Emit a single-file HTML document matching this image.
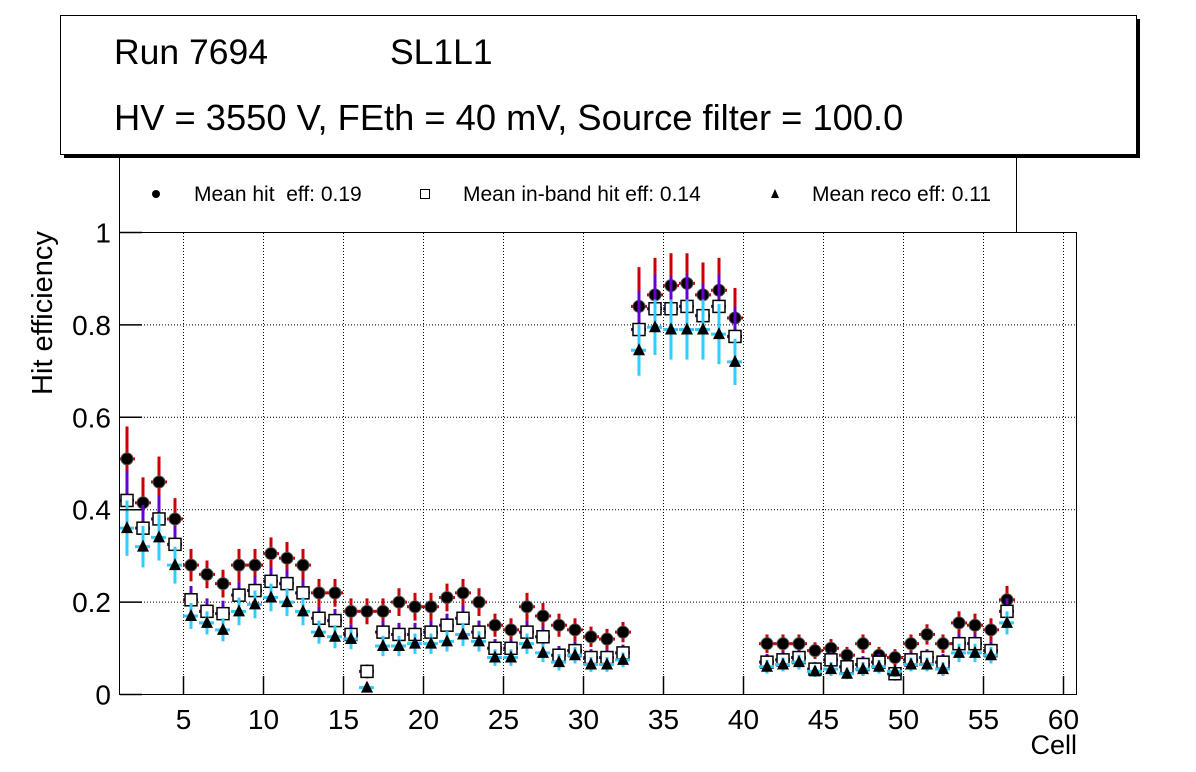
<!DOCTYPE html>
<html><head><meta charset="utf-8"><style>
body{margin:0;background:#fff;}
svg{display:block;font-family:"Liberation Sans",sans-serif;}
</style></head><body>
<svg id="c" width="1196" height="772" xmlns="http://www.w3.org/2000/svg">
<rect x="64" y="19" width="1076" height="139" fill="#000"/>
<rect x="60.5" y="15.5" width="1076" height="139" fill="#fff" stroke="#000" stroke-width="1"/>
<text x="114" y="64" font-size="35.5">Run 7694</text>
<text x="390" y="64" font-size="35.5">SL1L1</text>
<text x="114" y="130" font-size="36.3">HV = 3550 V, FEth = 40 mV, Source filter = 100.0</text>
<g>
<line x1="119.5" y1="158" x2="119.5" y2="232" stroke="#000"/>
<line x1="1016.5" y1="158" x2="1016.5" y2="232" stroke="#000"/>
<circle cx="156" cy="194" r="4" fill="#000"/>
<text x="194" y="201" font-size="21">Mean hit&#160; eff: 0.19</text>
<rect x="420.5" y="189.5" width="9" height="9" fill="#fff" stroke="#000"/>
<text x="463" y="201" font-size="21">Mean in-band hit eff: 0.14</text>
<path d="M775,189 L779,198 L771,198 Z" fill="#000"/>
<text x="812" y="201" font-size="21">Mean reco eff: 0.11</text>
</g>
<g id="grid"></g>
<g id="marks"></g>
<rect x="119.5" y="232.5" width="957" height="462" fill="none" stroke="#000"/>
<g id="axes"></g>
<text x="52" y="313" font-size="29" text-anchor="middle" transform="rotate(-90 52 313)">Hit efficiency</text>
<text x="1077" y="754" font-size="27" text-anchor="end">Cell</text>
</svg>
<script>
const cells=[1,2,3,4,5,6,7,8,9,10,11,12,13,14,15,16,17,18,19,20,21,22,23,24,25,26,27,28,29,30,31,32,33,34,35,36,37,38,39,41,42,43,44,45,46,47,48,49,50,51,52,53,54,55,56];
const hitEff=[.51,.415,.46,.38,.28,.26,.24,.28,.28,.305,.295,.28,.22,.22,.18,.18,.18,.20,.19,.19,.21,.22,.20,.15,.14,.19,.17,.15,.14,.125,.12,.135,.84,.865,.885,.89,.865,.875,.815,.11,.11,.11,.095,.10,.085,.11,.085,.08,.11,.13,.11,.155,.15,.14,.205];
const hitErr=[.07,.055,.055,.045,.035,.03,.03,.035,.035,.035,.035,.035,.03,.03,.028,.028,.028,.03,.03,.03,.03,.03,.03,.025,.025,.03,.028,.025,.025,.022,.022,.022,.085,.08,.07,.065,.07,.07,.065,.02,.02,.02,.018,.02,.018,.02,.018,.018,.02,.022,.02,.025,.025,.025,.03];
const inbandEff=[.42,.36,.38,.325,.205,.18,.175,.215,.225,.245,.24,.22,.165,.16,.13,.05,.135,.13,.13,.135,.15,.165,.135,.10,.10,.135,.125,.085,.095,.08,.08,.09,.79,.835,.835,.84,.82,.84,.775,.07,.075,.08,.055,.075,.06,.065,.07,.045,.075,.08,.07,.11,.11,.095,.18];
const inbandErr=[.065,.05,.05,.04,.03,.028,.028,.03,.03,.03,.03,.03,.025,.025,.022,.015,.025,.025,.025,.025,.025,.028,.025,.02,.02,.025,.022,.02,.02,.018,.018,.018,.085,.075,.07,.07,.07,.07,.065,.018,.018,.018,.015,.018,.015,.018,.018,.015,.018,.018,.018,.022,.022,.02,.028];
const recoEff=[.36,.32,.34,.28,.17,.155,.14,.18,.195,.21,.20,.18,.135,.125,.12,.015,.105,.105,.11,.11,.115,.13,.115,.08,.08,.11,.09,.07,.085,.065,.065,.075,.745,.795,.79,.79,.79,.78,.72,.06,.065,.07,.05,.055,.045,.055,.06,.05,.065,.065,.055,.09,.09,.085,.155];
const recoErr=[.06,.045,.05,.04,.028,.025,.025,.03,.03,.03,.03,.03,.025,.025,.022,.01,.022,.022,.022,.022,.022,.025,.022,.018,.018,.022,.02,.018,.018,.016,.016,.016,.055,.06,.065,.065,.065,.065,.05,.015,.015,.016,.012,.015,.012,.015,.015,.012,.015,.015,.015,.02,.02,.018,.025];
const xTicks=[5,10,15,20,25,30,35,40,45,50,55,60];
const yTicks=[0,0.2,0.4,0.6,0.8,1];
const yTickLabels=["0","0.2","0.4","0.6","0.8","1"];
const NS="http://www.w3.org/2000/svg";
const X=v=>119+(v-1)*16, Y=v=>694.5-v*462;
function mk(tag,attrs,parent){const e=document.createElementNS(NS,tag);for(const k in attrs)e.setAttribute(k,attrs[k]);parent.appendChild(e);return e;}
const grid=document.getElementById('grid'),axes=document.getElementById('axes'),marks=document.getElementById('marks');
xTicks.forEach(t=>{const x=X(t)+.5;
const g=mk('line',{x1:x,y1:233,x2:x,y2:694,stroke:'#000','stroke-dasharray':'1,2'},grid);


const tk=mk('line',{x1:x,y1:694,x2:x,y2:676,stroke:'#000','stroke-width':1.5},axes);


const l=mk('text',{x:x,y:729,'font-size':28,'text-anchor':'middle'},axes);l.textContent=t;

});
yTicks.forEach((t,i)=>{const y=Y(t);
if(t>0){const g=mk('line',{x1:120,y1:y,x2:1076,y2:y,stroke:'#000','stroke-dasharray':'1,2'},grid);

}
const tk=mk('line',{x1:120,y1:y,x2:142,y2:y,stroke:'#000','stroke-width':1.5},axes);


const l=mk('text',{x:111,y:y+10,'font-size':28,'text-anchor':'end'},axes);l.textContent=yTickLabels[i];

});
function series(vals,errs,color,name,dash,marker){
cells.forEach((c,i)=>{const cx=X(c+0.5),cy=Y(vals[i]);
const g=mk('g',{},marks);


const a={stroke:color,'stroke-width':3};if(dash)a['stroke-dasharray']=dash;
mk('line',Object.assign({x1:X(c),y1:cy,x2:X(c+1),y2:cy},a),g);
mk('line',{x1:cx,y1:Y(vals[i]+errs[i]),x2:cx,y2:Y(Math.max(0,vals[i]-errs[i])),stroke:color,'stroke-width':3},g);
if(marker==='c'){mk('circle',{cx:cx,cy:cy,r:6,fill:'#000',stroke:'#555','stroke-width':1},g);}
else if(marker==='s'){mk('rect',{x:cx-6,y:cy-6,width:12,height:12,fill:'#fff',stroke:'#000','stroke-width':1.5},g);}
else{mk('path',{d:`M${cx},${cy-7} L${cx+6},${cy+5} L${cx-6},${cy+5} Z`,fill:'#000'},g);}
});}
series(hitEff,hitErr,'#cc0000','hit',null,'c');
series(inbandEff,inbandErr,'#6600cc','inband','6,3','s');
series(recoEff,recoErr,'#33ccff','reco','6,3','t');
</script>
</body></html>
